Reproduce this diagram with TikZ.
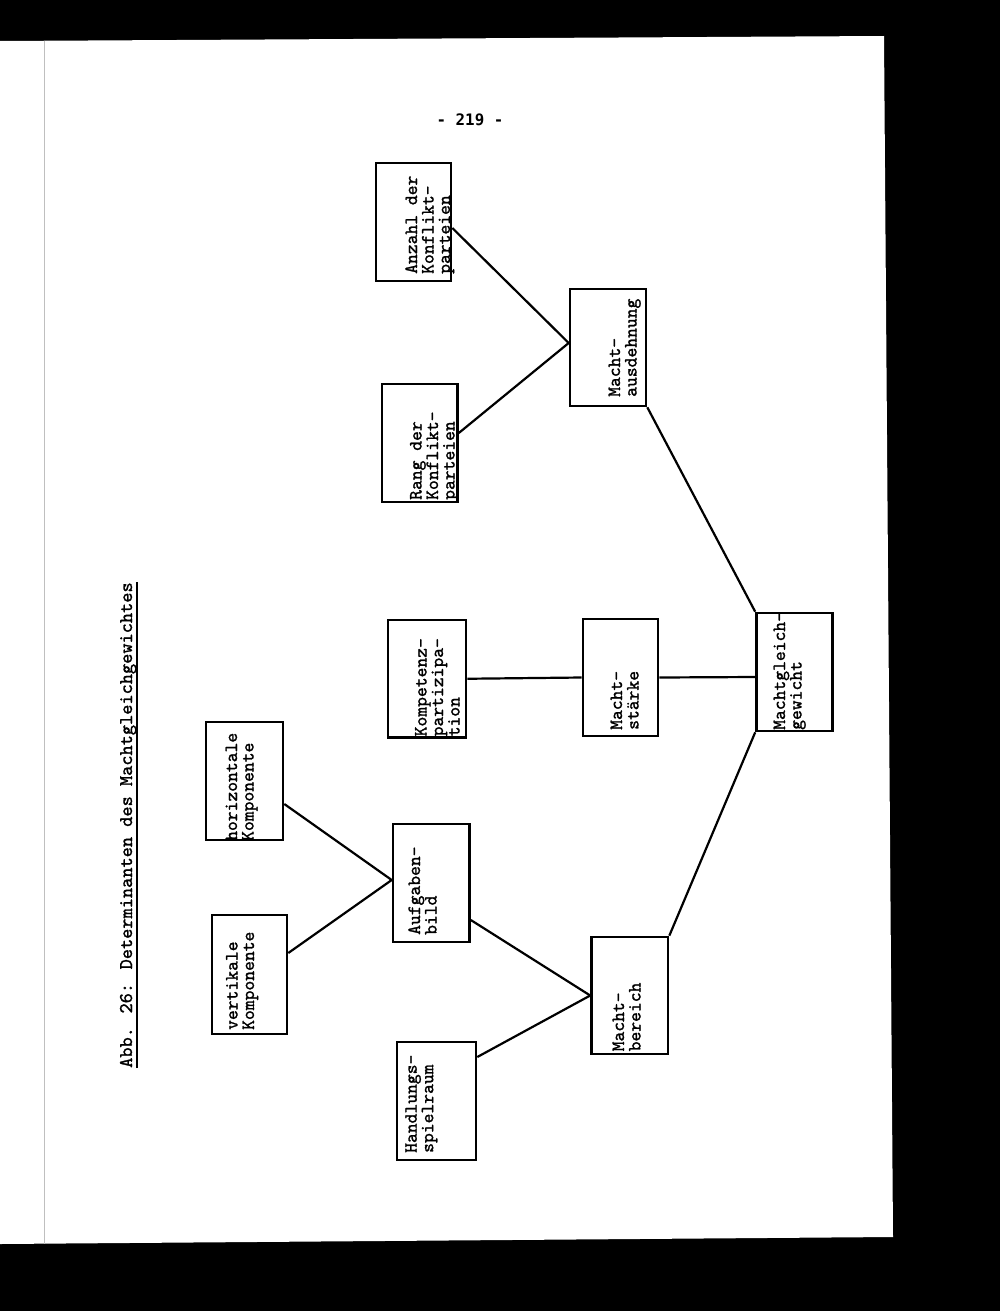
\documentclass[tikz,border=0pt]{standalone}
\usepackage{fontspec}
\newfontfamily\pnfont{DejaVu Sans Mono}
\newfontfamily\twfont{lmmono10-regular.otf}[FakeBold=1.3]
\usetikzlibrary{calc}
\begin{document}
\begin{tikzpicture}[x=1pt,y=-1pt,
  box/.style={draw, line width=2.6pt, rectangle, inner sep=0pt},
  txt/.style={rotate=90, anchor=base west, align=left, inner sep=0pt,
              font=\twfont\fontsize{18.7}{16.5}\selectfont},
  link/.style={line width=2.2pt}]
% page and scan border
\fill[black] (0,0) rectangle (1000,1311);
\fill[white] (0,41) -- (884,36) -- (893,1237) -- (0,1244) -- cycle;
\draw[gray!50, line width=1pt] (44,41) -- (44,1244);
\useasboundingbox (0,0) rectangle (1000,1311);

% page number
\node[font=\pnfont\bfseries\fontsize{15.8}{18}\selectfont, anchor=base, inner sep=0pt] (pg) at (470,126) {- 219 -};

% title
\node[txt, font=\twfont\fontsize{19.4}{20}\selectfont] (title) at (132,1068) {Abb. 26: Determinanten des Machtgleichgewichtes};
\draw[line width=1.4pt] ([xshift=5pt]title.base west) -- ([xshift=5pt]title.base east);

% boxes
\node[box, minimum width=75pt,   minimum height=118pt] (anz)  at (413.5,222) {};
\node[box, minimum width=75.5pt, minimum height=118pt] (rang) at (419.75,443) {};
\node[box, minimum width=76pt,   minimum height=117pt] (aus)  at (608,347.5) {};
\node[box, minimum width=78pt,   minimum height=117.5pt] (komp) at (427,678.75) {};
\node[box, minimum width=75pt,   minimum height=117pt] (sta)  at (620.5,677.5) {};
\node[box, minimum width=76pt,   minimum height=118pt] (gl)   at (794.5,672) {};
\node[box, minimum width=76.5pt, minimum height=118pt] (aufg) at (431.25,883) {};
\node[box, minimum width=77pt,   minimum height=118pt] (hor)  at (244.5,781) {};
\node[box, minimum width=75pt,   minimum height=119pt] (vert) at (249.5,974.5) {};
\node[box, minimum width=76.5pt, minimum height=117pt] (ber)  at (629.75,995.5) {};
\node[box, minimum width=79pt,   minimum height=118pt] (hand) at (436.5,1101) {};

% texts (anchor = baseline of the last line)
\node[txt] (anzT)  at (450,274)    {Anzahl der\\Konflikt-\\parteien};
\node[txt] (rangT) at (454.5,500)  {Rang der\\Konflikt-\\parteien};
\node[txt] (ausT)  at (636.5,397)  {Macht-\\ausdehnung};
\node[txt] (kompT) at (459.5,736.5){Kompetenz-\\partizipa-\\tion};
\node[txt] (staT)  at (638.5,730)  {Macht-\\stärke};
\node[txt] (glT)   at (801.5,730)  {Machtgleich-\\gewicht};
\node[txt] (aufgT) at (436.5,935)  {Aufgaben-\\bild};
\node[txt] (horT)  at (253.5,841)  {horizontale\\Komponente};
\node[txt] (vertT) at (254,1030)   {vertikale\\Komponente};
\node[txt] (berT)  at (640.5,1051.5) {Macht-\\bereich};
\node[txt] (handT) at (433.2,1153) {Handlungs-\\spielraum};

% connectors
\draw[link] ([yshift=-6pt]anz.east) -- ([yshift=4.5pt]aus.west);
\draw[link] ([yshift=10pt]rang.east) -- ([yshift=4.5pt]aus.west);
\draw[link] (aus.south east) -- (gl.north west);
\draw[link] (komp.east) -- (sta.west);
\draw[link] (sta.east) -- ([yshift=-5pt]gl.west);
\draw[link] (gl.south west) -- (ber.north east);
\draw[link] ([yshift=-23pt]hor.east) -- ([yshift=3pt]aufg.west);
\draw[link] ([yshift=21.5pt]vert.east) -- ([yshift=3pt]aufg.west);
\draw[link] ([yshift=-37pt]aufg.east) -- (ber.west);
\draw[link] ([yshift=44pt]hand.east) -- (ber.west);
\end{tikzpicture}
\end{document}
